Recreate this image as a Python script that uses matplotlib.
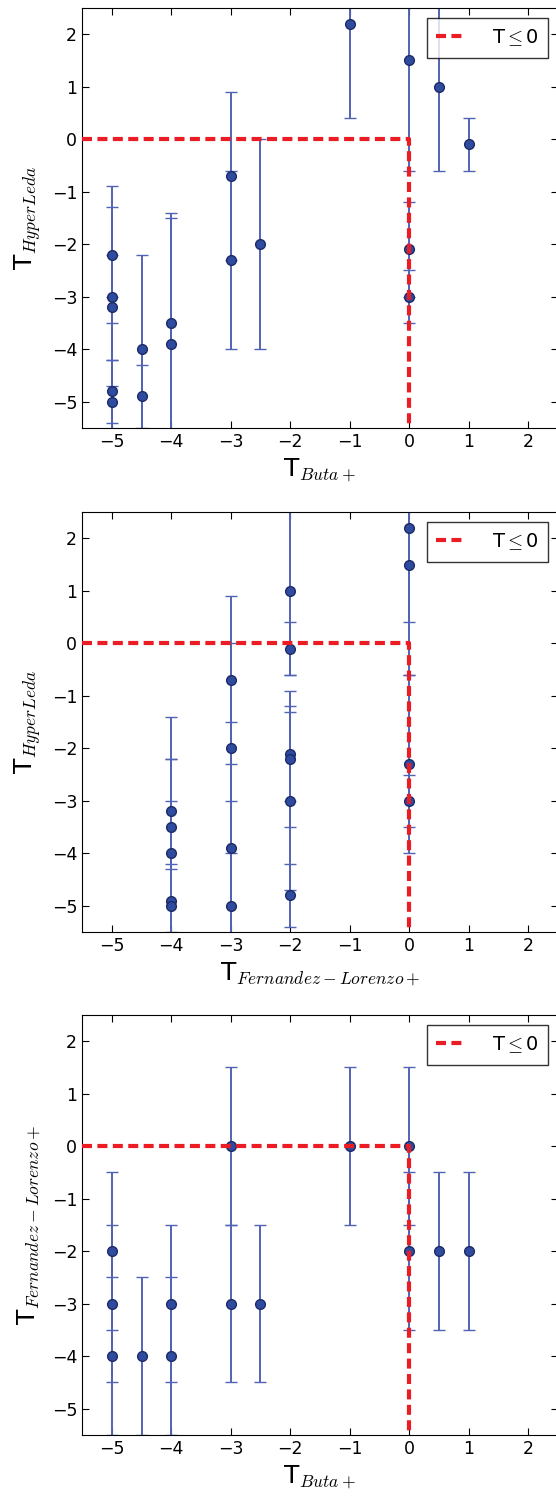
import matplotlib
matplotlib.use('Agg')
import matplotlib.pyplot as plt
import numpy as np

plt.rcParams['mathtext.fontset'] = 'cm'
plt.rcParams['font.family'] = ['DejaVu Sans']
plt.rcParams['xtick.direction'] = 'in'
plt.rcParams['ytick.direction'] = 'in'
plt.rcParams['xtick.top'] = True
plt.rcParams['ytick.right'] = True

# 面板1: T_Buta+ vs T_HyperLeda
buta_1 = [-5, -5, -5, -5, -5, -4.5, -4.5, -4, -4, -3, -3, -2.5, -1, 0, 0, 0, 0.5, 1]
hl_1 = [-2.2, -3.0, -3.2, -4.8, -5.0, -4.0, -4.9, -3.5, -3.9, -0.7, -2.3, -2.0, 2.2, 1.5, -2.1, -3.0, 1.0, -0.1]
hl_err_1 = [1.3, 1.7, 1.0, 0.6, 2.0, 1.8, 0.6, 2.1, 2.4, 1.6, 1.7, 2.0, 1.8, 2.1, 0.9, 0.5, 1.6, 0.5]

# 面板2: T_Fernandez-Lorenzo+ vs T_HyperLeda
fl_2 = [-4, -4, -4, -4, -4, -3, -3, -3, -3, -2, -2, -2, -2, -2, -2, 0, 0, 0, 0]
hl_2 = [-3.2, -3.5, -4.0, -4.9, -5.0, -0.7, -2.0, -3.9, -5.0, 1.0, -0.1, -2.1, -2.2, -3.0, -4.8, 2.2, 1.5, -2.3, -3.0]
hl_err_2 = [1.0, 2.1, 1.8, 0.6, 2.0, 1.6, 2.0, 2.4, 2.0, 1.6, 0.5, 0.9, 1.3, 1.7, 0.6, 1.8, 2.1, 1.7, 0.5]

# 面板3: T_Buta+ vs T_Fernandez-Lorenzo+
buta_3 = [-5, -5, -5, -4.5, -4, -4, -3, -3, -2.5, -1, 0, 0, 0.5, 1]
fl_3 = [-2, -3, -4, -4, -3, -4, 0, -3, -3, 0, 0, -2, -2, -2]
fl_err_3 = [1.5] * len(fl_3)

panels = [
    (buta_1, hl_1, hl_err_1, r'T$_{Buta+}$', r'T$_{HyperLeda}$', 0.7143),
    (fl_2, hl_2, hl_err_2, r'T$_{Fernandez-Lorenzo+}$', r'T$_{HyperLeda}$', 0.3778),
    (buta_3, fl_3, fl_err_3, r'T$_{Buta+}$', r'T$_{Fernandez-Lorenzo+}$', 0.0421),
]

fig = plt.figure(figsize=(5.56, 14.98), dpi=100)
for x, y, err, xlab, ylab, bottom in panels:
    ax = fig.add_axes([0.1475, bottom, 0.856, 0.2804])
    ax.errorbar(x, y, yerr=err, fmt='o', color='#4a5cb0', ecolor='#5163b4',
                elinewidth=1.4, capsize=4, capthick=1.0,
                mfc='#2f4b9f', mec='#1c2a66', ms=7, zorder=2)
    # T<=0 分界线
    ax.plot([-5.5, 0, 0], [0, 0, -5.5], color='#ec1c24', lw=3,
            dashes=(2.4, 1.3), label=r'T$\leq$0', zorder=3)
    ax.set_xlim(-5.5, 2.5)
    ax.set_ylim(-5.5, 2.5)
    ax.set_xticks(np.arange(-5, 3))
    ax.set_yticks(np.arange(-5, 3))
    ax.tick_params(labelsize=12.5, length=5)
    ax.set_xlabel(xlab, fontsize=18, labelpad=4)
    ax.set_ylabel(ylab, fontsize=18, labelpad=6)
    leg = ax.legend(loc='upper right', fontsize=14, fancybox=False,
                    handlelength=1.5, handletextpad=1.35, borderpad=0.5,
                    borderaxespad=0.5)
    leg.get_frame().set_edgecolor('black')
    leg.get_frame().set_linewidth(1.0)

fig.savefig('out.png', dpi=100)
